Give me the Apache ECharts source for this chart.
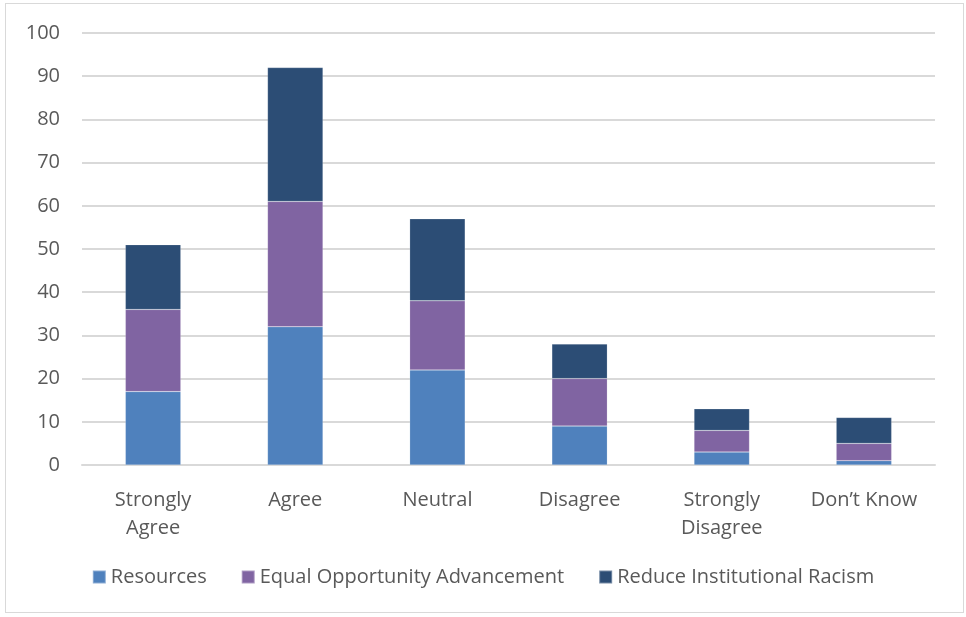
<!DOCTYPE html>
<html>
<head>
<meta charset="utf-8">
<script src="https://cdn.jsdelivr.net/npm/echarts@6/dist/echarts.min.js"></script>
<style>
  html, body { margin: 0; padding: 0; background: #fff; }
  #chart { width: 966px; height: 617px; }
  #frame { position: absolute; left: 5px; top: 3px; width: 957px; height: 608px; border: 1px solid #d9d9d9; pointer-events: none; }
</style>
</head>
<body>
<div id="chart"></div>
<div id="frame"></div>
<script>
const categories = ['Strongly\nAgree', 'Agree', 'Neutral', 'Disagree', 'Strongly\nDisagree', 'Don\u2019t Know']
const resources = [17, 32, 22, 9, 3, 1]
const equalOpportunity = [19, 29, 16, 11, 5, 4]
const reduceRacism = [15, 31, 19, 8, 5, 6]

const chart = echarts.init(document.getElementById('chart'))
const font = '"Open Sans", sans-serif'

const bar = (name, data, color) => ({
  name,
  type: 'bar',
  stack: 'total',
  barWidth: '39%',
  data,
  itemStyle: { color, borderColor: 'rgba(255,255,255,0.35)', borderWidth: 0.5 },
})

chart.setOption({
  animation: false,
  textStyle: { fontFamily: font },
  grid: { left: 82, right: 31, top: 33, bottom: 152 },
  legend: {
    bottom: 25,
    left: 'center',
    itemWidth: 13,
    itemHeight: 13,
    itemGap: 34,
    icon: 'rect',
    textStyle: { color: '#595959', fontSize: 20, fontFamily: font },
  },
  xAxis: {
    type: 'category',
    data: categories,
    axisLine: { lineStyle: { color: '#d9d9d9', width: 2 } },
    axisTick: { show: false },
    axisLabel: { color: '#595959', fontSize: 20, margin: 21, lineHeight: 28, fontFamily: font },
  },
  yAxis: {
    type: 'value',
    min: 0,
    max: 100,
    interval: 10,
    axisLine: { show: false },
    axisTick: { show: false },
    axisLabel: { color: '#595959', fontSize: 20, margin: 22, fontFamily: font },
    splitLine: { lineStyle: { color: '#d9d9d9', width: 2 } },
  },
  series: [
    bar('Resources', resources, '#4f81bd'),
    bar('Equal Opportunity Advancement', equalOpportunity, '#8064a2'),
    bar('Reduce Institutional Racism', reduceRacism, '#2c4d75'),
  ],
})
</script>
</body>
</html>
